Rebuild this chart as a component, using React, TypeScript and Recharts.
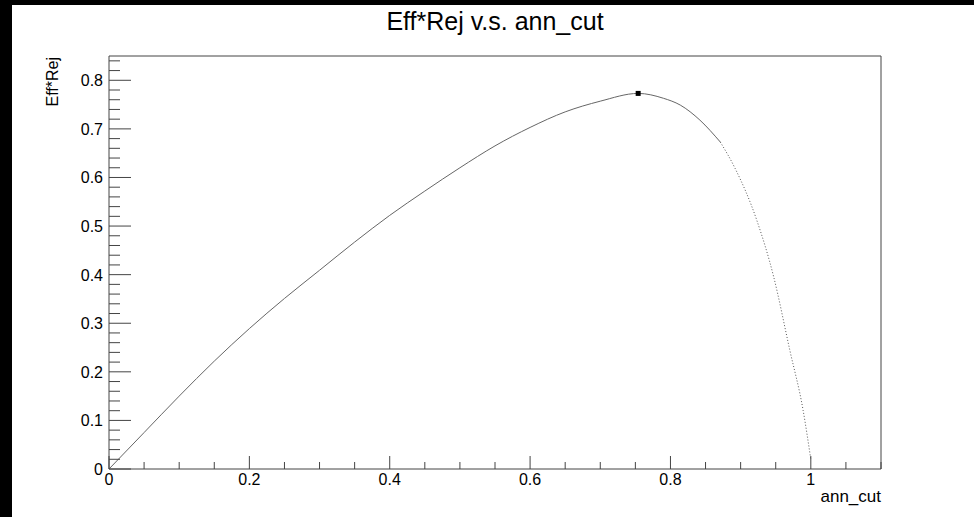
import React from "react";
import {
  ComposedChart,
  Line,
  Scatter,
  XAxis,
  YAxis,
  ReferenceLine,
} from "recharts";

const annCut = [
  0, 0.05, 0.1, 0.15, 0.2, 0.25, 0.3, 0.35, 0.4, 0.45, 0.5, 0.55, 0.6, 0.65,
  0.7, 0.754, 0.79, 0.814, 0.842, 0.871, 0.892, 0.923, 0.947, 0.97, 0.989, 1.0,
];
const effRej = [
  0, 0.075, 0.15, 0.222, 0.289, 0.351, 0.409, 0.467, 0.522, 0.572, 0.62,
  0.665, 0.703, 0.735, 0.757, 0.773, 0.763, 0.749, 0.718, 0.673, 0.619, 0.512,
  0.396, 0.245, 0.121, 0.02,
];
const peakCut = [0.754];
const peakEffRej = [0.773];

const xMajorTicks = [0, 0.2, 0.4, 0.6, 0.8, 1];
const xTicks = [
  0, 0.05, 0.1, 0.15, 0.2, 0.25, 0.3, 0.35, 0.4, 0.45, 0.5, 0.55, 0.6, 0.65,
  0.7, 0.75, 0.8, 0.85, 0.9, 0.95, 1, 1.05, 1.1,
];
const yMajorTicks = [0, 0.1, 0.2, 0.3, 0.4, 0.5, 0.6, 0.7, 0.8];
const yTicks = [
  0, 0.02, 0.04, 0.06, 0.08, 0.1, 0.12, 0.14, 0.16, 0.18, 0.2, 0.22, 0.24,
  0.26, 0.28, 0.3, 0.32, 0.34, 0.36, 0.38, 0.4, 0.42, 0.44, 0.46, 0.48, 0.5,
  0.52, 0.54, 0.56, 0.58, 0.6, 0.62, 0.64, 0.66, 0.68, 0.7, 0.72, 0.74, 0.76,
  0.78, 0.8, 0.82, 0.84,
];

// steep tail is drawn dotted, like the sparse ROOT markers
const STEEP_FROM = 0.871;

const data = annCut.map((c, i) => ({
  cut: c,
  smooth: c <= STEEP_FROM ? effRej[i] : null,
  steep: c >= STEEP_FROM ? effRej[i] : null,
}));
const peakData = peakCut.map((c, i) => ({ cut: c, effRej: peakEffRej[i] }));

const FONT = "'Liberation Sans', Arial, Helvetica, sans-serif";
const AXIS = "#444";

const isMajor = (list: number[], v: number) =>
  list.some((m) => Math.abs(m - v) < 1e-6);
const fmt = (v: number) => String(Math.round(v * 10) / 10);

function XTick(props: any) {
  const { x, y, payload } = props;
  const major = isMajor(xMajorTicks, payload.value);
  return (
    <g>
      <line x1={x} x2={x} y1={y} y2={y - (major ? 13 : 7)} stroke={AXIS} />
      {major && (
        <text x={x} y={y + 16} textAnchor="middle" fontSize={16} fontFamily={FONT} fill="#000">
          {fmt(payload.value)}
        </text>
      )}
    </g>
  );
}

function YTick(props: any) {
  const { x, y, payload } = props;
  const major = isMajor(yMajorTicks, payload.value);
  return (
    <g>
      <line x1={x} x2={x + (major ? 22 : 11)} y1={y} y2={y} stroke={AXIS} />
      {major && (
        <text x={x - 6} y={y + 6} textAnchor="end" fontSize={16} fontFamily={FONT} fill="#000">
          {fmt(payload.value)}
        </text>
      )}
    </g>
  );
}

function PeakSquare(props: any) {
  const { cx, cy } = props;
  return <rect x={cx - 2.5} y={cy - 2.5} width={5} height={5} fill="#000" />;
}

export default function App() {
  return (
    <div style={{ position: "absolute", left: 0, top: 0, width: 974, height: 517, background: "#000" }}>
      <div style={{ position: "absolute", left: 12, top: 5, width: 962, height: 512, background: "#fff" }}>
        <ComposedChart
          width={962}
          height={512}
          data={data}
          margin={{ top: 51, right: 93, bottom: 18, left: 37 }}
        >
          <XAxis
            type="number"
            dataKey="cut"
            domain={[0, 1.1]}
            ticks={xTicks}
            interval={0}
            tickSize={0}
            tickMargin={0}
            tick={<XTick />}
            tickLine={false}
            axisLine={{ stroke: AXIS }}
            height={30}
          />
          <YAxis
            type="number"
            domain={[0, 0.85]}
            ticks={yTicks}
            interval={0}
            tickSize={0}
            tickMargin={0}
            tick={<YTick />}
            tickLine={false}
            axisLine={{ stroke: AXIS }}
            width={60}
          />
          <ReferenceLine y={0.85} stroke={AXIS} />
          <ReferenceLine x={1.1} stroke={AXIS} />
          <Line
            type="monotone"
            dataKey="smooth"
            stroke="#666"
            strokeWidth={1}
            dot={false}
            isAnimationActive={false}
          />
          <Line
            type="monotone"
            dataKey="steep"
            stroke="#555"
            strokeWidth={1}
            strokeDasharray="1 2"
            dot={false}
            isAnimationActive={false}
          />
          <Scatter
            data={peakData}
            dataKey="effRej"
            shape={<PeakSquare />}
            isAnimationActive={false}
          />
        </ComposedChart>
        <svg
          width={962}
          height={512}
          style={{ position: "absolute", left: 0, top: 0, pointerEvents: "none" }}
        >
          <text x={483} y={25} textAnchor="middle" fontSize={25} fontFamily={FONT} fill="#000">
            Eff*Rej v.s. ann_cut
          </text>
          <text
            x={46}
            y={52}
            transform="rotate(-90 46 52)"
            textAnchor="end"
            fontSize={16}
            fontFamily={FONT}
            fill="#000"
          >
            Eff*Rej
          </text>
          <text x={869} y={497} textAnchor="end" fontSize={17} fontFamily={FONT} fill="#000">
            ann_cut
          </text>
        </svg>
      </div>
    </div>
  );
}
